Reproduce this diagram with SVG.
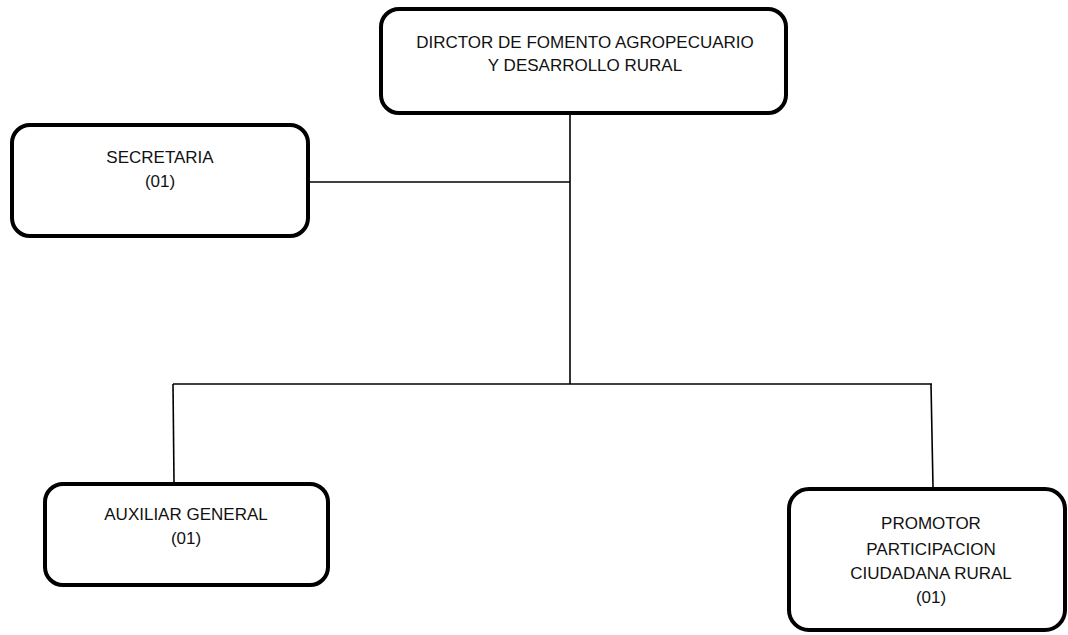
<svg xmlns="http://www.w3.org/2000/svg" width="1068" height="635" viewBox="0 0 1068 635">
<style>
.box{fill:#fff;stroke:#000;stroke-width:4}
.t{font-family:"Liberation Sans",Arial,sans-serif;font-size:17px;fill:#111;text-anchor:middle}
.c{stroke:#000;stroke-width:1.6;fill:none}
</style>
<rect width="1068" height="635" fill="#fff"/>
<g id="connectors">
<line class="c" x1="570" y1="115" x2="570" y2="384"/>
<line class="c" x1="310" y1="182" x2="570" y2="182"/>
<line class="c" x1="173" y1="384" x2="932" y2="384"/>
<line class="c" x1="173" y1="384" x2="174" y2="482"/>
<line class="c" x1="931" y1="384" x2="933" y2="487"/>
</g>
<g id="director">
<rect class="box" x="381" y="9" width="405" height="104" rx="18"/>
<text class="t" x="585" y="48">DIRCTOR DE FOMENTO AGROPECUARIO</text>
<text class="t" x="585" y="71">Y DESARROLLO RURAL</text>
</g>
<g id="secretaria">
<rect class="box" x="12" y="125" width="296" height="111" rx="18"/>
<text class="t" x="160" y="163">SECRETARIA</text>
<text class="t" x="160" y="187">(01)</text>
</g>
<g id="auxiliar">
<rect class="box" x="45" y="484" width="283" height="101" rx="18"/>
<text class="t" x="186" y="520">AUXILIAR GENERAL</text>
<text class="t" x="186" y="544">(01)</text>
</g>
<g id="promotor">
<rect class="box" x="789" y="489" width="276" height="141" rx="20"/>
<text class="t" x="931" y="529">PROMOTOR</text>
<text class="t" x="931" y="555">PARTICIPACION</text>
<text class="t" x="931" y="579">CIUDADANA RURAL</text>
<text class="t" x="931" y="603">(01)</text>
</g>
</svg>
